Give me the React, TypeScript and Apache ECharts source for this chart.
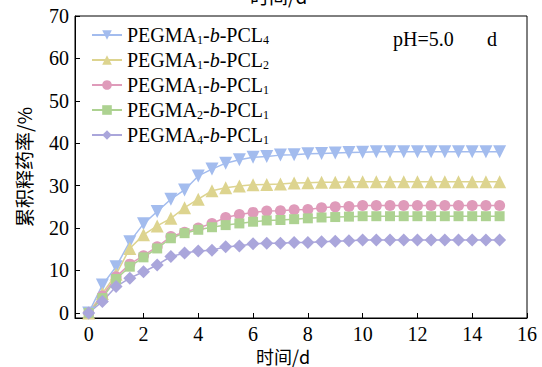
import React, { useEffect, useRef } from "react";
import * as echarts from "echarts";

const xDays = [0, 0.5, 1, 1.5, 2, 2.5, 3, 3.5, 4, 4.5, 5, 5.5, 6, 6.5, 7, 7.5, 8, 8.5, 9, 9.5, 10, 10.5, 11, 11.5, 12, 12.5, 13, 13.5, 14, 14.5, 15];

const pcl4 = [0, 6.6, 10.9, 16.8, 21.0, 23.9, 26.8, 29.0, 32.3, 33.9, 35.3, 36.1, 36.7, 36.9, 37.2, 37.3, 37.5, 37.6, 37.7, 37.8, 37.9, 38.0, 38.0, 38.0, 38.0, 38.0, 38.0, 38.0, 38.0, 38.0, 38.0];
const pcl2 = [0, 4.6, 9.1, 15.2, 18.4, 20.5, 22.3, 24.8, 26.8, 28.8, 29.5, 29.9, 30.2, 30.3, 30.4, 30.6, 30.7, 30.8, 30.8, 30.9, 30.9, 30.9, 30.9, 30.9, 30.9, 30.9, 30.9, 30.9, 30.9, 30.9, 30.9];
const pcl1a = [0, 4.0, 8.5, 11.5, 13.5, 15.6, 18.0, 19.0, 20.0, 21.1, 22.5, 23.2, 23.7, 24.0, 24.1, 24.3, 24.4, 24.8, 25.0, 25.1, 25.3, 25.3, 25.3, 25.3, 25.3, 25.3, 25.3, 25.3, 25.3, 25.3, 25.3];
const pegma2 = [0, 3.5, 8.0, 10.9, 13.1, 15.2, 17.6, 18.8, 19.6, 20.2, 20.7, 21.1, 21.5, 21.8, 21.9, 22.1, 22.3, 22.5, 22.6, 22.7, 22.8, 22.8, 22.8, 22.8, 22.8, 22.8, 22.8, 22.8, 22.8, 22.8, 22.8];
const pegma4 = [0, 2.7, 6.2, 8.2, 9.7, 11.3, 13.3, 14.1, 14.6, 14.8, 15.6, 15.8, 16.3, 16.4, 16.4, 16.6, 16.6, 16.8, 16.9, 17.0, 17.2, 17.2, 17.2, 17.2, 17.2, 17.2, 17.2, 17.2, 17.2, 17.2, 17.2];

const seriesNames = ["PEGMA1-b-PCL4", "PEGMA1-b-PCL2", "PEGMA1-b-PCL1", "PEGMA2-b-PCL1", "PEGMA4-b-PCL1"];
const legendRich = [
  "{n|PEGMA}{s|1}{n|-}{i|b}{n|-PCL}{s|4}",
  "{n|PEGMA}{s|1}{n|-}{i|b}{n|-PCL}{s|2}",
  "{n|PEGMA}{s|1}{n|-}{i|b}{n|-PCL}{s|1}",
  "{n|PEGMA}{s|2}{n|-}{i|b}{n|-PCL}{s|1}",
  "{n|PEGMA}{s|4}{n|-}{i|b}{n|-PCL}{s|1}",
];
const xTicks = [0, 2, 4, 6, 8, 10, 12, 14, 16];
const yTicks = [0, 10, 20, 30, 40, 50, 60, 70];
const xTitle = "时间/d";
const yTitle = "累积释药率/%";

const colors = ["#a3bcee", "#ddd48f", "#df9bba", "#add291", "#aaa6db"];
const symbols = ["triangle", "triangle", "circle", "rect", "diamond"];
const symbolSizes = [13, 13, 11, 10, 13];
const rotates = [180, 0, 0, 0, 0];

const SERIF = "Liberation Serif";
const CJK = "Noto Sans CJK SC";

export default function App() {
  const ref = useRef<HTMLDivElement>(null);
  useEffect(() => {
    if (!ref.current) return;
    const chart = echarts.init(ref.current, undefined, { renderer: "svg" });
    const dataSets = [pcl4, pcl2, pcl1a, pegma2, pegma4];
    chart.setOption({
      animation: false,
      grid: { left: 75, top: 16, right: 15, bottom: 49, show: true, borderColor: "#000", borderWidth: 1, outerBoundsMode: "none", containLabel: false },
      legend: {
        orient: "vertical",
        left: 91,
        top: 25,
        padding: 0,
        itemWidth: 30,
        itemHeight: 12,
        itemGap: 4,
        data: seriesNames,
        formatter: (name: string) => legendRich[seriesNames.indexOf(name)],
        textStyle: {
          color: "#000",
          fontFamily: SERIF,
          fontSize: 20,
          rich: {
            n: { fontFamily: SERIF, fontSize: 20, lineHeight: 22, color: "#000" },
            i: { fontFamily: SERIF, fontSize: 20, lineHeight: 22, fontStyle: "italic", color: "#000" },
            s: { fontFamily: SERIF, fontSize: 12, lineHeight: 12, verticalAlign: "bottom", color: "#000" },
          },
        },
      },
      xAxis: {
        type: "value",
        min: -0.5,
        max: 16,
        axisLine: { onZero: false, lineStyle: { color: "#000", width: 1 } },
        axisTick: { inside: true, length: 5, customValues: xTicks, lineStyle: { color: "#000" } },
        axisLabel: { customValues: xTicks, fontFamily: SERIF, fontSize: 20, lineHeight: 18, color: "#000", margin: 7 },
        splitLine: { show: false },
      },
      yAxis: {
        type: "value",
        min: -1.2,
        max: 70,
        name: yTitle,
        nameLocation: "middle",
        nameRotate: 90,
        nameGap: 42,
        nameTextStyle: { fontFamily: CJK, fontSize: 19, color: "#000" },
        axisLine: { onZero: false, lineStyle: { color: "#000", width: 1 } },
        axisTick: { inside: true, length: 5, customValues: yTicks, lineStyle: { color: "#000" } },
        axisLabel: { customValues: yTicks, fontFamily: SERIF, fontSize: 20, color: "#000", margin: 6 },
        splitLine: { show: false },
      },
      graphic: [
        { type: "text", x: 250, y: -14, style: { text: xTitle, fontFamily: CJK, fontSize: 19, fill: "#000", textVerticalAlign: "top" } },
        { type: "text", x: 283, y: 356, style: { text: xTitle, fontFamily: CJK, fontSize: 18, fill: "#000", textAlign: "center", textVerticalAlign: "middle" } },
        { type: "text", x: 393, y: 29, style: { text: "pH=5.0", fontFamily: SERIF, fontSize: 20, fill: "#000", textVerticalAlign: "top" } },
        { type: "text", x: 487, y: 29, style: { text: "d", fontFamily: SERIF, fontSize: 20, fill: "#000", textVerticalAlign: "top" } },
      ],
      series: dataSets.map((d, k) => ({
        name: seriesNames[k],
        type: "line",
        data: xDays.map((x, i) => [x, d[i]]),
        symbol: symbols[k],
        symbolSize: symbolSizes[k],
        symbolRotate: rotates[k],
        showAllSymbol: true,
        color: colors[k],
        lineStyle: { color: colors[k], width: 1.5 },
        itemStyle: { color: colors[k] },
      })),
    });
    return () => chart.dispose();
  }, []);
  return <div ref={ref} style={{ width: 542, height: 367, position: "absolute", left: 0, top: 0 }} />;
}
